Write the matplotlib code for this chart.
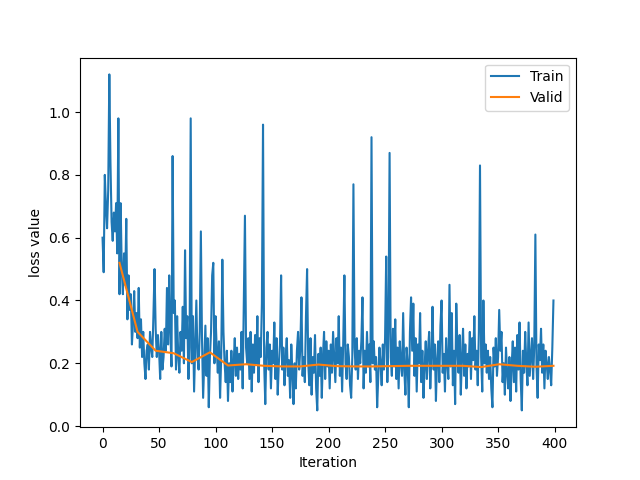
import numpy as np
import matplotlib
matplotlib.use("Agg")
import matplotlib.pyplot as plt

# train loss, one value per iteration
train_loss = [
    0.60, 0.49, 0.80, 0.70, 0.63, 0.75, 1.12, 0.84, 0.65, 0.59, 0.68, 0.62, 0.71, 0.55, 0.98, 0.42, 0.71, 0.50, 0.42, 0.55,
    0.45, 0.66, 0.34, 0.48, 0.37, 0.42, 0.26, 0.33, 0.43, 0.30, 0.36, 0.28, 0.44, 0.25, 0.34, 0.22, 0.30, 0.20, 0.15, 0.24,
    0.26, 0.18, 0.30, 0.25, 0.22, 0.35, 0.50, 0.31, 0.22, 0.29, 0.24, 0.15, 0.30, 0.18, 0.22, 0.31, 0.24, 0.44, 0.26, 0.48,
    0.30, 0.19, 0.86, 0.36, 0.40, 0.18, 0.35, 0.22, 0.17, 0.30, 0.24, 0.38, 0.20, 0.56, 0.28, 0.35, 0.15, 0.25, 0.98, 0.20,
    0.35, 0.11, 0.26, 0.40, 0.22, 0.18, 0.30, 0.62, 0.28, 0.09, 0.20, 0.32, 0.16, 0.28, 0.06, 0.22, 0.30, 0.48, 0.52, 0.20,
    0.35, 0.25, 0.17, 0.27, 0.09, 0.22, 0.53, 0.30, 0.20, 0.14, 0.24, 0.08, 0.20, 0.14, 0.24, 0.11, 0.20, 0.28, 0.16, 0.25,
    0.15, 0.23, 0.18, 0.30, 0.12, 0.40, 0.67, 0.25, 0.20, 0.28, 0.15, 0.30, 0.11, 0.26, 0.17, 0.29, 0.20, 0.35, 0.14, 0.28,
    0.22, 0.39, 0.96, 0.20, 0.07, 0.25, 0.30, 0.18, 0.26, 0.12, 0.24, 0.20, 0.33, 0.15, 0.28, 0.10, 0.20, 0.26, 0.48, 0.18,
    0.25, 0.13, 0.22, 0.28, 0.16, 0.21, 0.09, 0.26, 0.17, 0.07, 0.20, 0.12, 0.24, 0.30, 0.18, 0.25, 0.41, 0.16, 0.22, 0.14,
    0.35, 0.50, 0.20, 0.13, 0.28, 0.10, 0.22, 0.17, 0.29, 0.12, 0.05, 0.23, 0.16, 0.25, 0.09, 0.22, 0.30, 0.15, 0.27, 0.19,
    0.24, 0.12, 0.26, 0.17, 0.30, 0.22, 0.14, 0.28, 0.20, 0.35, 0.16, 0.25, 0.11, 0.27, 0.48, 0.20, 0.15, 0.26, 0.22, 0.13,
    0.09, 0.22, 0.77, 0.25, 0.18, 0.28, 0.15, 0.24, 0.20, 0.27, 0.41, 0.12, 0.24, 0.17, 0.30, 0.19, 0.26, 0.14, 0.92, 0.20,
    0.27, 0.18, 0.22, 0.06, 0.16, 0.25, 0.20, 0.13, 0.26, 0.18, 0.28, 0.54, 0.14, 0.30, 0.87, 0.22, 0.16, 0.31, 0.19, 0.34,
    0.15, 0.25, 0.12, 0.27, 0.20, 0.16, 0.36, 0.18, 0.10, 0.25, 0.20, 0.06, 0.30, 0.41, 0.24, 0.39, 0.16, 0.28, 0.11, 0.26,
    0.20, 0.36, 0.14, 0.24, 0.09, 0.19, 0.27, 0.15, 0.24, 0.30, 0.12, 0.22, 0.38, 0.18, 0.26, 0.08, 0.21, 0.27, 0.14, 0.32,
    0.40, 0.17, 0.23, 0.11, 0.28, 0.20, 0.15, 0.45, 0.19, 0.36, 0.13, 0.24, 0.07, 0.39, 0.25, 0.17, 0.29, 0.10, 0.22, 0.31,
    0.16, 0.26, 0.12, 0.23, 0.19, 0.30, 0.15, 0.28, 0.21, 0.35, 0.18, 0.24, 0.13, 0.30, 0.83, 0.22, 0.11, 0.40, 0.20, 0.26,
    0.17, 0.24, 0.15, 0.22, 0.12, 0.06, 0.25, 0.19, 0.28, 0.16, 0.22, 0.37, 0.24, 0.30, 0.14, 0.20, 0.10, 0.25, 0.17, 0.12,
    0.22, 0.08, 0.19, 0.27, 0.14, 0.25, 0.11, 0.29, 0.18, 0.33, 0.15, 0.05, 0.24, 0.17, 0.30, 0.20, 0.13, 0.33, 0.16, 0.22,
    0.28, 0.15, 0.25, 0.61, 0.19, 0.09, 0.26, 0.21, 0.31, 0.17, 0.26, 0.12, 0.24, 0.20, 0.15, 0.22, 0.18, 0.13, 0.25, 0.40,
]
train_iter = np.arange(len(train_loss))

# valid loss, evaluated every 16 iterations
valid_iter = [15, 31, 47, 63, 79, 95, 111, 127, 143, 159, 175, 191, 207,
              223, 239, 255, 271, 287, 303, 319, 335, 351, 367, 383, 399]
valid_loss = [0.52, 0.30, 0.24, 0.232, 0.204, 0.235, 0.193, 0.197, 0.192, 0.190, 0.190, 0.196, 0.191,
              0.190, 0.190, 0.191, 0.192, 0.192, 0.192, 0.192, 0.188, 0.197, 0.192, 0.189, 0.192]

fig, ax = plt.subplots(figsize=(6.4, 4.8), dpi=100)
ax.plot(train_iter, train_loss, label="Train")
ax.plot(valid_iter, valid_loss, label="Valid")
ax.set_xlabel("Iteration")
ax.set_ylabel("loss value")
ax.legend(loc="upper right")
plt.savefig("out.png")
